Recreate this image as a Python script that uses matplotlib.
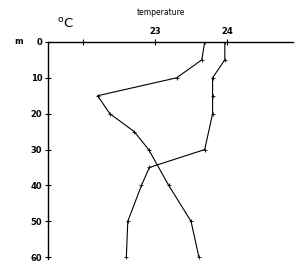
import matplotlib.pyplot as plt

# depth (m) and temperature (deg C) for the two profiles
depth_a = [0, 5, 10, 15, 20, 25, 30, 40, 50, 60]
temp_a = [23.69, 23.65, 23.30, 22.20, 22.37, 22.71, 22.91, 23.19, 23.50, 23.61]

depth_b = [0, 5, 10, 15, 20, 30, 35, 40, 50, 60]
temp_b = [23.97, 23.97, 23.80, 23.80, 23.80, 23.69, 22.92, 22.81, 22.62, 22.60]

x_ticks = [22, 23, 24]
x_tick_labels = ['', '23', '24']
y_ticks = [0, 10, 20, 30, 40, 50, 60]

fig = plt.figure(figsize=(3, 2.67), dpi=100)
ax = fig.add_axes([0.16, 0.03, 0.817, 0.813])

ax.plot(temp_a, depth_a, color='black', lw=0.8, marker='+', ms=2.5, mew=0.6)
ax.plot(temp_b, depth_b, color='black', lw=0.8, marker='+', ms=2.5, mew=0.6)

ax.set_xlim(21.51, 24.92)
ax.set_ylim(60.5, 0)

# only top and left axis lines
ax.spines['right'].set_visible(False)
ax.spines['bottom'].set_visible(False)
ax.spines['top'].set_linewidth(1.0)
ax.spines['left'].set_linewidth(1.0)

ax.xaxis.tick_top()
ax.set_xticks(x_ticks, labels=x_tick_labels)
ax.set_yticks(y_ticks, labels=[str(v) for v in y_ticks])
ax.tick_params(axis='both', direction='inout', length=4, width=0.8,
               labelsize=6, pad=2)
for lbl in ax.get_xticklabels() + ax.get_yticklabels():
    lbl.set_fontweight('bold')

ax.text(0.46, 1.135, 'temperature', transform=ax.transAxes,
        ha='center', va='center', fontsize=5.5)
ax.text(0.07, 1.085, '$^{\\mathrm{o}}$C', transform=ax.transAxes,
        ha='center', va='center', fontsize=9.5)
ax.text(-0.12, 1.0, 'm', transform=ax.transAxes,
        ha='center', va='center', fontsize=6, fontweight='bold')

plt.savefig('out.png', dpi=100)
